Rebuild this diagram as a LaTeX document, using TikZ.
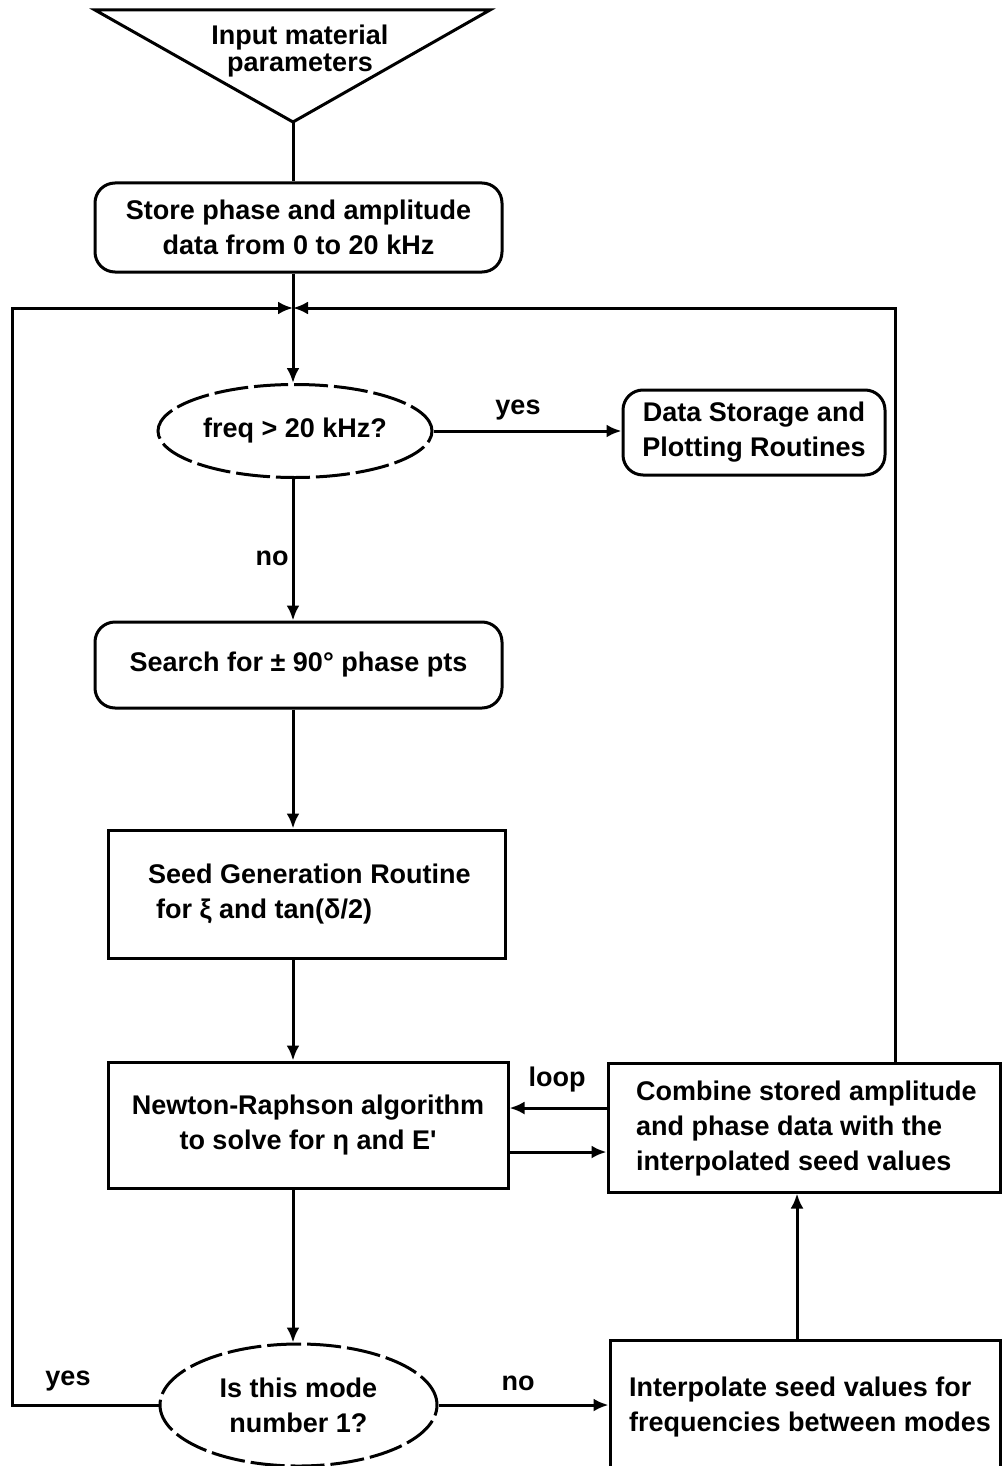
\documentclass[tikz,border=0pt]{standalone}
\usepackage{fontspec}
\setmainfont{Liberation Sans}
\usetikzlibrary{shapes.geometric,arrows.meta}
\begin{document}
\begin{tikzpicture}[x=1pt,y=-1pt,
 every node/.style={font=\fontsize{27}{35}\selectfont\bfseries},
 arr/.style={line width=3pt,-{Latex[length=15pt,width=13pt]}},
 plain/.style={line width=3pt},
 rbox/.style={draw,line width=3pt,rounded corners=20pt,inner sep=0pt,align=center},
 sbox/.style={draw,line width=3pt,inner sep=0pt,align=center},
 dell/.style={draw,ellipse,line width=3pt,dash pattern=on 34pt off 6pt,inner sep=0pt,align=center},
 lbl/.style={inner sep=0pt}]
\useasboundingbox (0,0) rectangle (1002,1466);
\fill[white] (0,0) rectangle (1002,1466);
% column coordinates
\coordinate (cx) at (293,0);
\coordinate (cc) at (797,0);
\coordinate (J) at (293,308);
\coordinate (Lc) at (12,308);
\coordinate (Rc) at (895,308);
\coordinate (ya) at (0,1108);
\coordinate (yb) at (0,1152);
% triangle
\coordinate (tl) at (95,10);
\coordinate (tr) at (490,10);
\coordinate (tapex) at (293,122);
\draw[plain,line join=miter] (tl) -- (tr) -- (tapex) -- cycle;
\node[lbl,align=center] (inp) at (300,51) {Input material\\[-8pt]parameters};
% boxes
\node[rbox,minimum width=407pt,minimum height=89pt] (store) at (298.5,227.5) {Store phase and amplitude\\data from 0 to 20 kHz};
\node[dell,minimum width=274pt,minimum height=93pt] (freq) at (295,431) {freq > 20 kHz?};
\node[rbox,minimum width=262pt,minimum height=85pt] (data) at (754,432.5) {Data Storage and\\Plotting Routines};
\node[rbox,minimum width=407pt,minimum height=86pt] (search) at (298.5,665) {Search for ± 90° phase pts};
\node[sbox,minimum width=397pt,minimum height=128pt] (seed) at (306.5,894) {};
\node[lbl,align=left,anchor=west] (seedt) at (148,894) {Seed Generation Routine\\\hspace{8pt}for ξ and tan(δ/2)};
\node[sbox,minimum width=400pt,minimum height=126pt] (newton) at (308,1125) {Newton-Raphson algorithm\\to solve for η and E\textquotesingle};
\node[sbox,minimum width=392pt,minimum height=129pt] (combine) at (804,1127.5) {};
\node[lbl,align=left,anchor=west] (combt) at (636,1129) {Combine stored amplitude\\and phase data with the\\interpolated seed values};
\node[dell,minimum width=277pt,minimum height=122pt] (mode) at (298.5,1405) {Is this mode\\number 1?};
\node[sbox,minimum width=390pt,minimum height=140pt] (interp) at (805,1410) {};
\node[lbl,align=left,anchor=west] (intt) at (629,1407) {Interpolate seed values for\\frequencies between modes};
% labels
\node[lbl] (lyes1) at (518,410) {yes};
\node[lbl] (lno1) at (272,558) {no};
\node[lbl] (lloop) at (557,1080) {loop};
\node[lbl] (lno2) at (518,1383) {no};
\node[lbl] (lyes2) at (68,1381) {yes};
% connectors
\draw[plain] (tapex) -- (store.north -| cx);
\draw[arr] (store.south -| cx) -- (freq.north -| cx);
\draw[arr] (mode.west) -| (Lc) -- (J);
\draw[arr] (combine.north -| Rc) -- (Rc) -- (J);
\draw[arr] (freq.east) -- (freq.east -| data.west);
\draw[arr] (freq.south -| cx) -- (search.north -| cx);
\draw[arr] (search.south -| cx) -- (seed.north -| cx);
\draw[arr] (seed.south -| cx) -- (newton.north -| cx);
\draw[arr] (combine.west |- ya) -- (newton.east |- ya);
\draw[arr] (newton.east |- yb) -- (combine.west |- yb);
\draw[arr] (newton.south -| cx) -- (mode.north -| cx);
\draw[arr] (mode.east) -- (mode.east -| interp.west);
\draw[arr] (interp.north -| cc) -- (combine.south -| cc);
\end{tikzpicture}
\end{document}
